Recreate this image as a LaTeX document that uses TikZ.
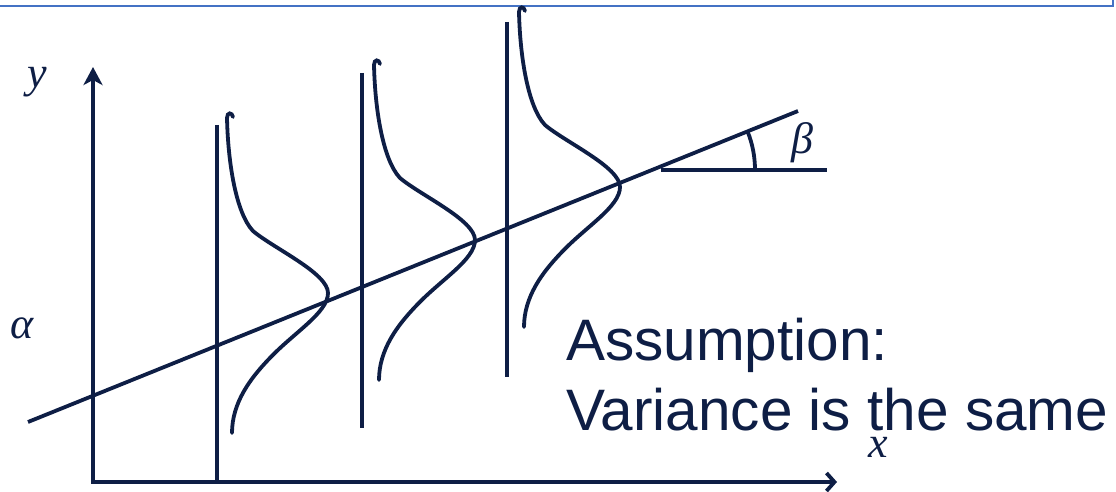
\documentclass[tikz,border=0pt]{standalone}
\usepackage{fontspec}
\setmainfont{Liberation Sans}
\newfontfamily\tnr{Liberation Serif}
\usetikzlibrary{arrows.meta}
\definecolor{navy}{RGB}{14,30,69}
\definecolor{frameblue}{RGB}{68,114,196}
\begin{document}
\begin{tikzpicture}[x=1pt,y=-1pt,
  ink/.style={draw=navy, line width=3.8pt},
  bell/.style={draw=navy, line width=3.8pt, line cap=round},
  greek/.style={text=navy, inner sep=0pt, font=\tnr\itshape\fontsize{44}{44}\selectfont},
  caption/.style={text=navy, inner sep=0pt, align=left, font=\fontsize{58.5}{70}\selectfont}]
\useasboundingbox (0,0) rectangle (1116,492);
% frame edge at top
\draw[frameblue, line width=2pt] (-20,-20) rectangle (1113,6);
% axes
\coordinate (O) at (93,482);
\coordinate (Ytip) at (93,67);
\coordinate (Xtip) at (837,482);
\draw[ink, {Stealth[length=18pt,width=19pt,inset=5pt]}-{Straight Barb[length=8pt,width=18pt]}] (Ytip) -- (O) -- (Xtip);
% vertical lines
\coordinate (V1a) at (217,125); \coordinate (V1b) at (217,482);
\coordinate (V2a) at (362,73);  \coordinate (V2b) at (362,428);
\coordinate (V3a) at (507,22);  \coordinate (V3b) at (507,377);
\draw[ink] (V1a) -- (V1b);
\draw[ink] (V2a) -- (V2b);
\draw[ink] (V3a) -- (V3b);
% regression line
\coordinate (L1) at (28,422);
\coordinate (L2) at (798,111);
\draw[ink] (L1) -- (L2);
% beta angle
\coordinate (B0) at (661,170);
\coordinate (B1) at (827,170);
\draw[ink] (B0) -- (B1);
\coordinate (Aa) at (755,170);
\coordinate (Ab) at (747.5,131.4);
\draw[ink] (Aa) .. controls (755,156.8) and (752.5,143.6) .. (Ab);
% bell curves
\foreach \px/\py in {328/293, 475/240, 620/187}{
  \draw[bell, shift={(\px,\py)}]
    (-95,-176) .. controls (-96,-181) and (-101,-181) .. (-101,-175)
    .. controls (-100,-130) and (-92,-80) .. (-75,-62)
    .. controls (-55,-45) and (0,-20) .. (0,0)
    .. controls (0,20) and (-35,40) .. (-60,67)
    .. controls (-78,86) and (-96,110) .. (-96,140);
}
% labels
\node[greek] (ylab) at (37,82) {y};
\node[greek] (alab) at (22,328) {α};
\node[greek] (blab) at (802,143) {β};
\node[greek] (xlab) at (878,447) {x};
\node[caption, anchor=base west] (cap) at (566,430) {Assumption:\\Variance is the same};
\end{tikzpicture}
\end{document}
